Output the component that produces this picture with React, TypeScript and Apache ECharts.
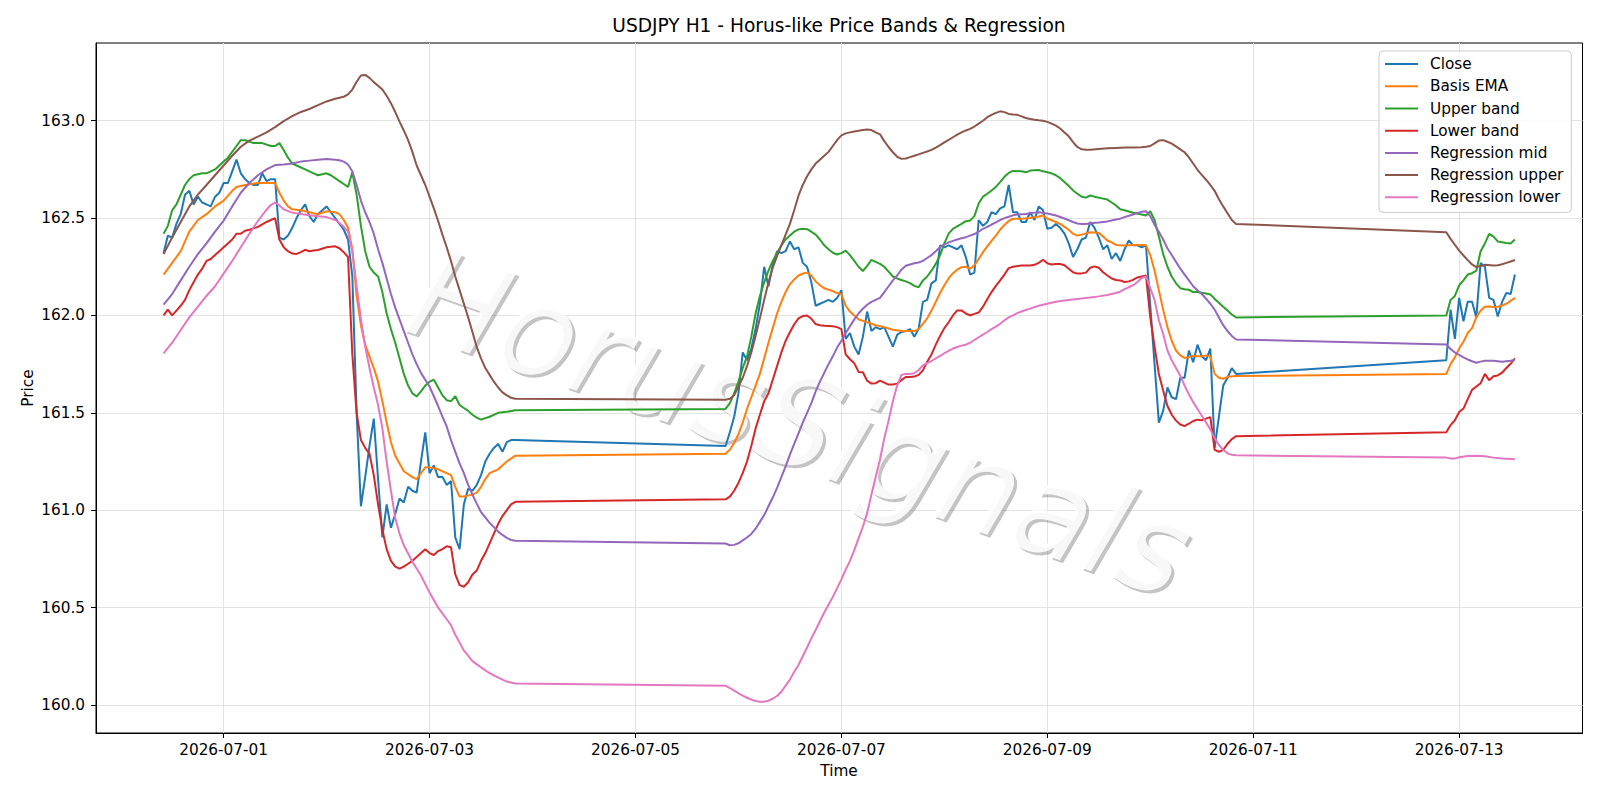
import React, { useEffect, useRef } from "react";
import * as echarts from "echarts";

// Hours are counted from 2026-07-01 00:00 (hourly bars, weekend gaps).
const TITLE = "USDJPY H1 - Horus-like Price Bands & Regression";
const X_TICK_HOURS = [0, 48, 96, 144, 192, 240, 288];
const X_TICK_LABELS = ["2026-07-01", "2026-07-03", "2026-07-05", "2026-07-07", "2026-07-09", "2026-07-11", "2026-07-13"];
const Y_TICKS = [160.0, 160.5, 161.0, 161.5, 162.0, 162.5, 163.0];
const SERIES_NAMES = ["Close", "Basis EMA", "Upper band", "Lower band", "Regression mid", "Regression upper", "Regression lower"];
const SERIES_COLORS = ["#1f77b4", "#ff7f0e", "#2ca02c", "#d62728", "#9467bd", "#8c564b", "#e377c2"];

const closeData: [number, number][] = [
  [-14,162.32],[-13,162.41],[-12,162.40],[-11,162.47],[-10,162.52],[-9,162.62],[-8,162.64],[-7,162.57],[-6,162.61],[-5,162.58],
  [-4,162.57],[-3,162.56],[-2,162.61],[-1,162.63],[0,162.68],[1,162.68],[2,162.74],[3,162.80],[4,162.73],[5,162.70],
  [6,162.68],[7,162.67],[8,162.67],[9,162.73],[10,162.69],[11,162.70],[12,162.70],[13,162.40],[14,162.39],[15,162.41],
  [16,162.45],[17,162.50],[18,162.54],[19,162.57],[20,162.51],[21,162.48],[22,162.52],[23,162.54],[24,162.56],[25,162.53],
  [26,162.50],[27,162.47],[28,162.44],[29,162.39],[30,162.20],[31,161.50],[32,161.02],[33,161.17],[34,161.33],[35,161.47],
  [36,161.16],[37,160.86],[38,161.03],[39,160.91],[40,160.98],[41,161.06],[42,161.04],[43,161.12],[44,161.10],[45,161.09],
  [46,161.25],[47,161.40],[48,161.19],[49,161.23],[50,161.17],[51,161.17],[52,161.13],[53,161.15],[54,160.86],[55,160.80],
  [56,161.03],[57,161.11],[58,161.10],[59,161.13],[60,161.18],[61,161.25],[62,161.29],[63,161.32],[64,161.34],[65,161.30],
  [66,161.35],[67,161.36],[68,161.36],
  [117,161.33],[118,161.40],[119,161.48],[120,161.60],[121,161.81],[122,161.77],[123,161.83],[124,161.93],[125,162.06],[126,162.25],
  [127,162.15],[128,162.26],[129,162.33],[130,162.32],[131,162.33],[132,162.38],[133,162.34],[134,162.35],[135,162.27],[136,162.25],
  [137,162.17],[138,162.05],[139,162.06],[140,162.07],[141,162.08],[142,162.07],[143,162.09],[144,162.13],[145,161.88],[146,161.91],
  [147,161.84],[148,161.80],[149,161.89],[150,162.02],[151,161.92],[152,161.94],[153,161.93],[154,161.94],[155,161.89],[156,161.84],
  [157,161.90],[158,161.915],[159,161.92],[160,161.93],[161,161.89],[162,161.93],[163,162.07],[164,162.08],[165,162.165],[166,162.18],
  [167,162.36],[168,162.35],[169,162.36],[170,162.35],[171,162.34],[172,162.36],[173,162.30],[174,162.21],[175,162.22],[176,162.49],
  [177,162.46],[178,162.48],[179,162.53],[180,162.52],[181,162.55],[182,162.56],[183,162.67],[184,162.53],[185,162.53],[186,162.48],
  [187,162.48],[188,162.53],[189,162.49],[190,162.56],[191,162.54],[192,162.445],[193,162.45],[194,162.47],[195,162.45],[196,162.42],
  [197,162.37],[198,162.30],[199,162.34],[200,162.39],[201,162.40],[202,162.48],[203,162.45],[204,162.40],[205,162.34],[206,162.36],
  [207,162.29],[208,162.32],[209,162.28],[210,162.34],[211,162.385],[212,162.36],[213,162.36],[214,162.35],[215,162.36],[216,162.05],
  [217,161.75],[218,161.45],[219,161.51],[220,161.63],[221,161.58],[222,161.57],[223,161.68],[224,161.68],[225,161.82],[226,161.76],
  [227,161.85],[228,161.79],[229,161.77],[230,161.83],[231,161.32],[232,161.48],[233,161.64],[234,161.68],[235,161.73],[236,161.70],
  [285,161.77],[286,162.03],[287,161.88],[288,162.09],[289,161.97],[290,162.07],[291,162.07],[292,161.99],[293,162.27],[294,162.25],
  [295,162.09],[296,162.08],[297,161.995],[298,162.07],[299,162.115],[300,162.11],[301,162.21],
];

const emaData: [number, number][] = [
  [-14,162.21],[-12,162.27],[-10,162.33],[-8,162.43],[-6,162.49],[-4,162.52],[-2,162.56],[0,162.59],[2,162.64],[3,162.66],
  [5,162.67],[8,162.68],[12,162.68],[13,162.63],[14,162.59],[15,162.56],[16,162.545],[18,162.54],[20,162.53],[22,162.52],
  [24,162.535],[26,162.53],[27,162.52],[28,162.49],[29,162.45],[30,162.34],[31,162.10],[32,161.95],[33,161.85],[34,161.79],
  [35,161.73],[36,161.66],[37,161.56],[38,161.45],[39,161.35],[40,161.28],[41,161.24],[42,161.20],[44,161.17],[45,161.16],
  [46,161.19],[47,161.22],[48,161.22],[50,161.21],[52,161.19],[53,161.18],[54,161.12],[55,161.07],[56,161.07],[58,161.08],
  [59,161.09],[60,161.12],[61,161.16],[62,161.19],[64,161.21],[66,161.25],[68,161.28],
  [117,161.29],[118,161.31],[119,161.345],[120,161.39],[121,161.45],[122,161.52],[123,161.58],[124,161.64],[125,161.70],[126,161.78],
  [127,161.86],[128,161.935],[129,162.01],[130,162.07],[131,162.12],[132,162.16],[133,162.185],[134,162.205],[135,162.215],[136,162.22],
  [137,162.205],[138,162.175],[139,162.155],[140,162.14],[142,162.125],[143,162.115],[144,162.11],[145,162.05],[146,162.02],[147,162.00],
  [148,161.98],[150,161.965],[152,161.95],[154,161.94],[156,161.927],[158,161.92],[161,161.92],[162,161.93],[163,161.957],[164,161.985],
  [165,162.025],[166,162.07],[167,162.115],[168,162.155],[169,162.19],[170,162.217],[171,162.235],[172,162.248],[173,162.25],[174,162.24],
  [175,162.257],[176,162.29],[177,162.325],[178,162.355],[179,162.383],[180,162.41],[181,162.44],[182,162.465],[183,162.485],[184,162.496],
  [186,162.496],[188,162.50],[190,162.508],[191,162.513],[192,162.498],[194,162.48],[195,162.47],[196,162.455],[197,162.44],[198,162.42],
  [199,162.41],[200,162.415],[202,162.427],[204,162.425],[205,162.405],[206,162.385],[207,162.375],[208,162.362],[210,162.359],[212,162.362],
  [214,162.362],[215,162.36],[216,162.31],[217,162.23],[218,162.13],[219,162.03],[220,161.94],[221,161.87],[222,161.82],[223,161.795],
  [224,161.782],[225,161.786],[226,161.793],[227,161.79],[228,161.79],[229,161.795],[230,161.79],[231,161.70],[232,161.68],[233,161.675],
  [234,161.685],[236,161.689],
  [285,161.70],[286,161.75],[287,161.785],[288,161.83],[289,161.865],[290,161.91],[291,161.935],[292,161.99],[293,162.025],[294,162.045],
  [295,162.046],[296,162.043],[297,162.045],[298,162.052],[299,162.06],[300,162.075],[301,162.09],
];

const upperBandData: [number, number][] = [
  [-14,162.42],[-13,162.46],[-12,162.54],[-11,162.57],[-9,162.67],[-8,162.70],[-7,162.72],[-5,162.73],[-4,162.73],[-3,162.74],
  [-2,162.75],[0,162.79],[1,162.81],[3,162.87],[4,162.90],[5,162.90],[7,162.885],[9,162.885],[11,162.87],[12,162.87],
  [13,162.885],[14,162.85],[15,162.81],[16,162.78],[17,162.77],[19,162.75],[21,162.73],[22,162.72],[24,162.73],[25,162.72],
  [27,162.69],[28,162.675],[29,162.66],[30,162.735],[31,162.62],[32,162.46],[33,162.33],[34,162.25],[35,162.22],[36,162.20],
  [37,162.12],[38,162.01],[39,161.93],[40,161.86],[41,161.78],[42,161.70],[43,161.64],[44,161.60],[45,161.584],[46,161.61],
  [47,161.64],[48,161.66],[49,161.67],[50,161.63],[51,161.59],[52,161.565],[53,161.56],[54,161.585],[55,161.54],[56,161.525],
  [57,161.51],[58,161.49],[59,161.475],[60,161.465],[62,161.48],[64,161.50],[66,161.505],[68,161.513],
  [117,161.52],[118,161.55],[119,161.60],[120,161.66],[121,161.73],[122,161.79],[123,161.89],[124,162.01],[125,162.10],[126,162.17],
  [127,162.23],[128,162.28],[129,162.32],[130,162.36],[131,162.39],[132,162.41],[133,162.43],[134,162.442],[135,162.445],[136,162.443],
  [137,162.43],[138,162.415],[139,162.39],[140,162.36],[141,162.34],[142,162.322],[143,162.313],[144,162.32],[145,162.333],[146,162.31],
  [147,162.28],[148,162.25],[149,162.228],[150,162.255],[151,162.285],[152,162.275],[153,162.265],[154,162.25],[155,162.225],[156,162.20],
  [157,162.19],[158,162.182],[159,162.175],[160,162.166],[161,162.152],[162,162.145],[163,162.18],[164,162.20],[165,162.23],[166,162.265],
  [167,162.31],[168,162.37],[169,162.42],[170,162.445],[171,162.458],[172,162.47],[173,162.484],[174,162.487],[175,162.51],[176,162.575],
  [177,162.61],[178,162.625],[179,162.642],[180,162.66],[181,162.685],[182,162.712],[183,162.732],[184,162.742],[186,162.74],[187,162.735],
  [188,162.744],[190,162.747],[191,162.74],[192,162.735],[193,162.73],[194,162.72],[195,162.705],[196,162.685],[197,162.665],[198,162.642],
  [199,162.625],[200,162.61],[201,162.605],[202,162.616],[203,162.61],[205,162.60],[206,162.595],[207,162.58],[208,162.565],[209,162.545],
  [210,162.54],[212,162.527],[214,162.518],[215,162.513],[216,162.535],[217,162.49],[218,162.405],[219,162.316],[220,162.25],[221,162.20],
  [222,162.165],[223,162.14],[224,162.135],[225,162.132],[226,162.12],[227,162.12],[228,162.117],[229,162.113],[230,162.108],[231,162.085],
  [232,162.065],[233,162.045],[234,162.025],[235,162.005],[236,161.99],
  [285,162.00],[286,162.08],[287,162.10],[288,162.155],[289,162.18],[290,162.21],[291,162.217],[292,162.23],[293,162.33],[294,162.37],
  [295,162.419],[296,162.405],[297,162.38],[298,162.376],[299,162.372],[300,162.37],[301,162.39],
];

const lowerBandData: [number, number][] = [
  [-14,162.00],[-13,162.03],[-12,162.00],[-11,162.025],[-10,162.05],[-9,162.08],[-8,162.13],[-7,162.17],[-6,162.21],[-5,162.24],
  [-4,162.28],[-3,162.29],[-2,162.31],[-1,162.33],[0,162.35],[1,162.37],[2,162.39],[3,162.42],[4,162.42],[5,162.435],
  [6,162.44],[8,162.455],[10,162.48],[12,162.50],[13,162.39],[14,162.35],[15,162.33],[16,162.318],[17,162.316],[18,162.325],
  [19,162.337],[20,162.33],[21,162.333],[22,162.336],[24,162.35],[26,162.355],[27,162.345],[28,162.325],[29,162.30],[30,161.80],
  [31,161.50],[32,161.36],[33,161.32],[34,161.29],[35,161.18],[36,161.03],[37,160.90],[38,160.80],[39,160.74],[40,160.71],
  [41,160.70],[42,160.71],[43,160.725],[44,160.74],[45,160.76],[46,160.78],[47,160.80],[48,160.78],[49,160.77],[50,160.79],
  [51,160.80],[52,160.815],[53,160.81],[54,160.67],[55,160.615],[56,160.607],[57,160.63],[58,160.67],[59,160.69],[60,160.74],
  [61,160.78],[62,160.83],[63,160.88],[64,160.93],[65,160.97],[66,161.00],[67,161.03],[68,161.043],
  [117,161.056],[118,161.07],[119,161.10],[120,161.14],[121,161.19],[122,161.25],[123,161.33],[124,161.42],[125,161.49],[126,161.56],
  [127,161.60],[128,161.67],[129,161.74],[130,161.81],[131,161.87],[132,161.914],[133,161.955],[134,161.985],[135,161.997],[136,162.00],
  [137,161.983],[138,161.956],[139,161.95],[140,161.947],[142,161.945],[143,161.94],[144,161.93],[145,161.80],[146,161.775],[147,161.755],
  [148,161.71],[149,161.708],[150,161.665],[151,161.65],[152,161.652],[153,161.665],[154,161.655],[155,161.645],[156,161.645],[157,161.65],
  [158,161.668],[159,161.684],[160,161.684],[161,161.686],[162,161.695],[163,161.718],[164,161.762],[165,161.80],[166,161.85],[167,161.895],
  [168,161.935],[169,161.965],[170,162.00],[171,162.026],[172,162.026],[173,162.01],[174,162.00],[175,162.008],[176,162.015],[177,162.045],
  [178,162.083],[179,162.12],[180,162.152],[181,162.18],[182,162.21],[183,162.243],[184,162.25],[186,162.256],[188,162.256],[189,162.26],
  [190,162.27],[191,162.286],[192,162.268],[193,162.262],[194,162.264],[195,162.264],[196,162.258],[197,162.24],[198,162.222],[199,162.215],
  [200,162.216],[201,162.22],[202,162.245],[203,162.252],[204,162.245],[205,162.222],[206,162.205],[207,162.19],[208,162.182],[209,162.18],
  [210,162.172],[211,162.175],[212,162.183],[213,162.195],[214,162.20],[215,162.205],[216,161.99],[217,161.84],[218,161.70],[219,161.615],
  [220,161.535],[221,161.49],[222,161.46],[223,161.44],[224,161.432],[225,161.444],[226,161.458],[227,161.465],[228,161.462],[229,161.47],
  [230,161.478],[231,161.31],[232,161.30],[233,161.31],[234,161.34],[235,161.365],[236,161.38],
  [285,161.40],[286,161.437],[287,161.462],[288,161.504],[289,161.522],[290,161.57],[291,161.618],[292,161.635],[293,161.652],[294,161.70],
  [295,161.667],[296,161.688],[297,161.692],[298,161.706],[299,161.73],[300,161.752],[301,161.78],
];

const regMidData: [number, number][] = [
  [-14,162.056],[-12,162.11],[-10,162.18],[-8,162.25],[-6,162.315],[-4,162.37],[-2,162.43],[0,162.487],[2,162.56],[4,162.63],
  [6,162.68],[8,162.72],[10,162.75],[12,162.772],[14,162.775],[16,162.78],[18,162.79],[20,162.795],[22,162.80],[24,162.803],
  [26,162.80],[27,162.797],[28,162.79],[29,162.775],[30,162.74],[31,162.67],[32,162.59],[33,162.53],[34,162.48],[35,162.42],
  [36,162.34],[37,162.27],[38,162.19],[39,162.11],[40,162.04],[41,161.98],[42,161.92],[43,161.86],[44,161.80],[45,161.75],
  [46,161.705],[47,161.67],[48,161.635],[49,161.585],[50,161.535],[51,161.48],[52,161.43],[53,161.36],[54,161.30],[55,161.24],
  [56,161.19],[57,161.13],[58,161.08],[59,161.034],[60,160.99],[61,160.963],[62,160.935],[63,160.913],[64,160.89],[65,160.873],
  [66,160.858],[67,160.847],[68,160.843],
  [117,160.829],[118,160.82],[119,160.822],[120,160.83],[121,160.845],[122,160.86],[123,160.878],[124,160.905],[125,160.94],[126,160.975],
  [127,161.02],[128,161.065],[129,161.115],[130,161.17],[131,161.225],[132,161.285],[133,161.34],[134,161.395],[135,161.45],[136,161.50],
  [137,161.55],[138,161.61],[139,161.66],[140,161.705],[141,161.75],[142,161.79],[143,161.835],[144,161.87],[145,161.91],[146,161.945],
  [147,161.98],[148,162.01],[149,162.035],[150,162.055],[151,162.07],[152,162.08],[153,162.09],[154,162.12],[155,162.15],[156,162.18],
  [157,162.205],[158,162.235],[159,162.255],[160,162.262],[161,162.268],[162,162.272],[163,162.28],[164,162.295],[165,162.31],[166,162.33],
  [167,162.352],[168,162.365],[169,162.375],[170,162.383],[171,162.39],[172,162.396],[173,162.402],[174,162.41],[175,162.418],[176,162.43],
  [177,162.445],[178,162.455],[179,162.467],[180,162.478],[181,162.49],[182,162.50],[183,162.507],[184,162.514],[185,162.518],[187,162.521],
  [189,162.528],[190,162.53],[192,162.524],[194,162.513],[196,162.498],[198,162.48],[199,162.472],[200,162.47],[201,162.47],[202,162.473],
  [204,162.477],[205,162.48],[206,162.483],[207,162.488],[208,162.493],[209,162.497],[210,162.505],[211,162.512],[212,162.518],[213,162.526],
  [214,162.532],[215,162.535],[216,162.51],[217,162.465],[218,162.43],[219,162.39],[220,162.345],[221,162.31],[222,162.275],[223,162.24],
  [224,162.21],[225,162.18],[226,162.15],[227,162.13],[228,162.11],[229,162.086],[230,162.06],[231,162.03],[232,161.99],[233,161.95],
  [234,161.92],[235,161.895],[236,161.877],
  [285,161.851],[286,161.828],[287,161.81],[288,161.797],[289,161.785],[290,161.774],[291,161.765],[292,161.757],[293,161.763],[294,161.767],
  [296,161.767],[298,161.762],[300,161.767],[301,161.772],
];

const regUpperData: [number, number][] = [
  [-14,162.316],[-12,162.40],[-10,162.48],[-8,162.56],[-6,162.62],[-4,162.67],[-2,162.72],[0,162.77],[2,162.82],[4,162.866],
  [6,162.898],[8,162.918],[10,162.94],[12,162.967],[14,162.998],[16,163.024],[18,163.045],[20,163.06],[22,163.08],[24,163.099],
  [26,163.113],[28,163.123],[29,163.135],[30,163.16],[31,163.20],[32,163.232],[33,163.235],[34,163.22],[35,163.198],[36,163.18],
  [37,163.16],[38,163.128],[39,163.09],[40,163.045],[41,162.995],[42,162.95],[43,162.90],[44,162.84],[45,162.77],[46,162.72],
  [47,162.67],[48,162.61],[49,162.55],[50,162.485],[51,162.415],[52,162.35],[53,162.28],[54,162.20],[55,162.13],[56,162.06],
  [57,161.99],[58,161.915],[59,161.837],[60,161.78],[61,161.73],[62,161.695],[63,161.66],[64,161.63],[65,161.605],[66,161.59],
  [67,161.577],[68,161.572],
  [117,161.567],[118,161.572],[119,161.59],[120,161.635],[121,161.68],[122,161.74],[123,161.81],[124,161.895],[125,161.985],[126,162.08],
  [127,162.17],[128,162.245],[129,162.305],[130,162.36],[131,162.415],[132,162.47],[133,162.54],[134,162.615],[135,162.67],[136,162.715],
  [137,162.75],[138,162.78],[139,162.80],[140,162.82],[141,162.84],[142,162.87],[143,162.90],[144,162.925],[145,162.935],[146,162.94],
  [147,162.945],[148,162.948],[149,162.952],[150,162.955],[151,162.952],[152,162.94],[153,162.93],[154,162.895],[155,162.865],[156,162.838],
  [157,162.815],[158,162.804],[159,162.806],[160,162.813],[161,162.82],[162,162.827],[163,162.835],[164,162.842],[165,162.85],[166,162.862],
  [167,162.875],[168,162.889],[169,162.902],[170,162.915],[171,162.928],[172,162.94],[173,162.95],[174,162.958],[175,162.97],[176,162.985],
  [177,163.00],[178,163.018],[179,163.03],[180,163.04],[181,163.048],[182,163.044],[183,163.035],[184,163.032],[185,163.03],[186,163.022],
  [187,163.014],[188,163.009],[189,163.005],[190,163.002],[191,163.00],[192,162.994],[193,162.985],[194,162.975],[195,162.96],[196,162.94],
  [197,162.92],[198,162.89],[199,162.865],[200,162.853],[201,162.851],[202,162.851],[204,162.855],[206,162.858],[208,162.86],[210,162.862],
  [212,162.863],[214,162.864],[215,162.866],[216,162.87],[217,162.884],[218,162.898],[219,162.90],[220,162.892],[221,162.882],[222,162.868],
  [223,162.853],[224,162.838],[225,162.812],[226,162.78],[227,162.748],[228,162.722],[229,162.697],[230,162.67],[231,162.64],[232,162.597],
  [233,162.56],[234,162.525],[235,162.49],[236,162.47],
  [285,162.427],[286,162.393],[287,162.363],[288,162.333],[289,162.308],[290,162.284],[291,162.262],[292,162.248],[293,162.254],[294,162.26],
  [296,162.256],[297,162.258],[298,162.263],[299,162.27],[300,162.277],[301,162.285],
];

const regLowerData: [number, number][] = [
  [-14,161.805],[-12,161.86],[-10,161.925],[-8,161.99],[-6,162.045],[-4,162.10],[-2,162.15],[0,162.215],[2,162.28],[4,162.35],
  [6,162.42],[8,162.485],[10,162.543],[11,162.567],[12,162.58],[13,162.565],[14,162.545],[16,162.528],[18,162.521],[20,162.514],
  [22,162.509],[24,162.505],[26,162.49],[27,162.475],[28,162.455],[29,162.43],[30,162.33],[31,162.15],[32,161.98],[33,161.84],
  [34,161.73],[35,161.63],[36,161.54],[37,161.42],[38,161.25],[39,161.10],[40,160.96],[41,160.88],[42,160.82],[44,160.735],
  [46,160.665],[48,160.577],[50,160.50],[52,160.44],[53,160.41],[54,160.36],[55,160.32],[56,160.28],[58,160.225],[60,160.193],
  [62,160.163],[64,160.14],[66,160.12],[68,160.11],
  [117,160.099],[118,160.087],[119,160.074],[120,160.06],[121,160.048],[122,160.037],[123,160.028],[124,160.02],[125,160.017],[126,160.017],
  [127,160.022],[128,160.032],[129,160.046],[130,160.068],[131,160.099],[132,160.13],[133,160.17],[134,160.205],[135,160.25],[136,160.295],
  [137,160.342],[138,160.385],[139,160.43],[140,160.475],[141,160.515],[142,160.555],[143,160.60],[144,160.645],[145,160.695],[146,160.74],
  [147,160.795],[148,160.855],[149,160.915],[150,160.985],[151,161.08],[152,161.17],[153,161.26],[154,161.37],[155,161.46],[156,161.56],
  [157,161.64],[158,161.695],[159,161.70],[160,161.70],[161,161.703],[162,161.72],[163,161.744],[164,161.755],[165,161.766],[166,161.78],
  [167,161.792],[168,161.806],[169,161.818],[170,161.83],[171,161.838],[172,161.845],[173,161.85],[174,161.86],[175,161.874],[176,161.888],
  [177,161.902],[178,161.915],[179,161.93],[180,161.943],[181,161.957],[182,161.975],[183,161.99],[184,162.00],[185,162.012],[186,162.02],
  [187,162.028],[188,162.035],[190,162.05],[192,162.06],[194,162.07],[196,162.077],[198,162.082],[200,162.087],[202,162.092],[204,162.098],
  [206,162.105],[208,162.115],[209,162.122],[210,162.135],[211,162.145],[212,162.155],[213,162.172],[214,162.192],[215,162.20],[216,162.14],
  [217,162.08],[218,161.975],[219,161.905],[220,161.82],[221,161.77],[222,161.73],[223,161.69],[224,161.64],[225,161.595],[226,161.555],
  [227,161.52],[228,161.485],[229,161.45],[230,161.415],[231,161.37],[232,161.335],[233,161.31],[234,161.292],[235,161.285],[236,161.282],
  [285,161.27],[286,161.266],[287,161.265],[288,161.272],[290,161.278],[292,161.279],[294,161.277],[296,161.27],[298,161.265],[300,161.263],
  [301,161.262],
];

const SERIES_DATA = [closeData, emaData, upperBandData, lowerBandData, regMidData, regUpperData, regLowerData];

const FONT = "DejaVu Sans";
const TICK_FONT_SIZE = 15.3;

export default function App() {
  const ref = useRef<HTMLDivElement>(null);
  useEffect(() => {
    if (!ref.current) return;
    const chart = echarts.init(ref.current, null, { renderer: "svg" });
    const wmRot = (-19.3 * Math.PI) / 180;
    const center = (t: string, size: number) => ({
      text: t, fontSize: size, fontFamily: FONT, fill: "#000",
      align: "center", verticalAlign: "middle", textAlign: "center", textVerticalAlign: "middle",
    });
    const option: any = {
      animation: false,
      backgroundColor: "#ffffff",
      grid: {
        left: 96, right: 17.5, top: 43, bottom: 67,
        show: true, borderColor: "#000000", borderWidth: 1, backgroundColor: "transparent",
        containLabel: false,
      },
      xAxis: {
        type: "value",
        min: -29.75,
        max: 316.75,
        axisLine: { show: true, onZero: false, lineStyle: { color: "#000", width: 1 } },
        axisTick: { show: true, inside: false, length: 5, lineStyle: { color: "#000", width: 1 }, customValues: X_TICK_HOURS },
        axisLabel: {
          customValues: X_TICK_HOURS,
          formatter: (v: number) => {
            const i = X_TICK_HOURS.indexOf(Math.round(v));
            return i >= 0 ? X_TICK_LABELS[i] : "";
          },
          color: "#000", fontSize: TICK_FONT_SIZE, fontFamily: FONT, margin: 9,
        },
        splitLine: { show: true, lineStyle: { color: "#e3e3e3", width: 1 } },
      },
      yAxis: {
        type: "value",
        min: 159.856,
        max: 163.399,
        axisLine: { show: true, onZero: false, lineStyle: { color: "#000", width: 1 } },
        axisTick: { show: true, inside: false, length: 5, lineStyle: { color: "#000", width: 1 }, customValues: Y_TICKS },
        axisLabel: {
          customValues: Y_TICKS,
          formatter: (v: number) => v.toFixed(1),
          color: "#000", fontSize: TICK_FONT_SIZE, fontFamily: FONT, margin: 11,
        },
        splitLine: { show: true, lineStyle: { color: "#e3e3e3", width: 1 } },
      },
      legend: {
        orient: "vertical",
        left: 1379,
        top: 51,
        icon: "rect",
        itemWidth: 33,
        itemHeight: 2,
        itemGap: 6,
        padding: [5, 8, 7, 6],
        backgroundColor: "rgba(255,255,255,0.8)",
        borderColor: "#cccccc",
        borderWidth: 1,
        borderRadius: 4,
        textStyle: { fontSize: TICK_FONT_SIZE, fontFamily: FONT, color: "#000", lineHeight: 16.2, padding: [0, 0, 0, 7] },
        data: SERIES_NAMES,
        z: 20,
      },
      series: SERIES_NAMES.map((name, i) => ({
        name,
        type: "line",
        data: SERIES_DATA[i],
        showSymbol: false,
        symbol: "none",
        color: SERIES_COLORS[i],
        lineStyle: { color: SERIES_COLORS[i], width: 2 },
        z: 2,
      })),
      graphic: [
        { type: "text", x: 839, y: 25.5, z: 30, style: center(TITLE, 18.6) },
        { type: "text", x: 839, y: 771, z: 30, style: center("Time", TICK_FONT_SIZE) },
        { type: "text", x: 27.5, y: 388, rotation: Math.PI / 2, z: 30, style: center("Price", TICK_FONT_SIZE) },
        {
          type: "text", x: 803, y: 426, rotation: wmRot, z: 1,
          style: { ...center("HorusSignals", 125), fontStyle: "italic", fill: "rgba(70,70,70,0.32)" },
        },
        {
          type: "text", x: 800, y: 423, rotation: wmRot, z: 1,
          style: { ...center("HorusSignals", 125), fontStyle: "italic", fill: "rgba(255,255,255,0.88)" },
        },
      ],
    };
    chart.setOption(option);
    return () => chart.dispose();
  }, []);
  return <div ref={ref} style={{ position: "absolute", left: 0, top: 0, width: 1600, height: 800 }} />;
}
